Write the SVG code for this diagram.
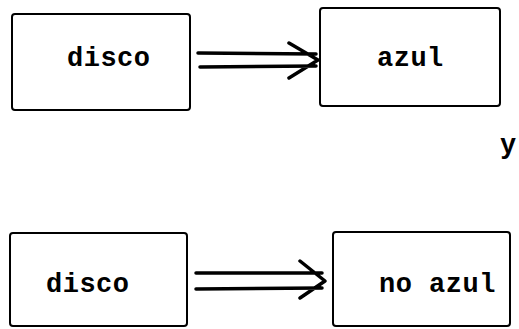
<svg xmlns="http://www.w3.org/2000/svg" width="519" height="329" viewBox="0 0 519 329">
<style>
.box{fill:none;stroke:#000;stroke-width:2;}
.t{font-family:"Liberation Mono",monospace;font-weight:bold;font-size:27px;letter-spacing:0.5px;fill:#000;}
.ln{fill:none;stroke:#000;stroke-width:3.5;stroke-linecap:round;stroke-linejoin:round;}
</style>
<rect width="519" height="329" fill="#fff"/>
<g id="n1"><rect class="box" x="12" y="14" width="178" height="96" rx="3"/><text class="t" x="67" y="66">disco</text></g>
<g id="n2"><rect class="box" x="320" y="8" width="180" height="98" rx="3"/><text class="t" x="377" y="66">azul</text></g>
<g id="n3"><rect class="box" x="10" y="233" width="177" height="93" rx="3"/><text class="t" x="46" y="292">disco</text></g>
<g id="n4"><rect class="box" x="333" y="232" width="177" height="94" rx="3"/><text class="t" x="379" y="292">no azul</text></g>
<text class="t" x="500" y="153">y</text>
<g id="connectors">
<path class="ln" d="M198 53 L316 54 M200 67 L316 66 M289 43 L318 60 L289 78"/>
<path class="ln" d="M196 273 L322 273 M196 289 L322 288 M300 261 L325 281 L300 298"/>
</g>
</svg>
